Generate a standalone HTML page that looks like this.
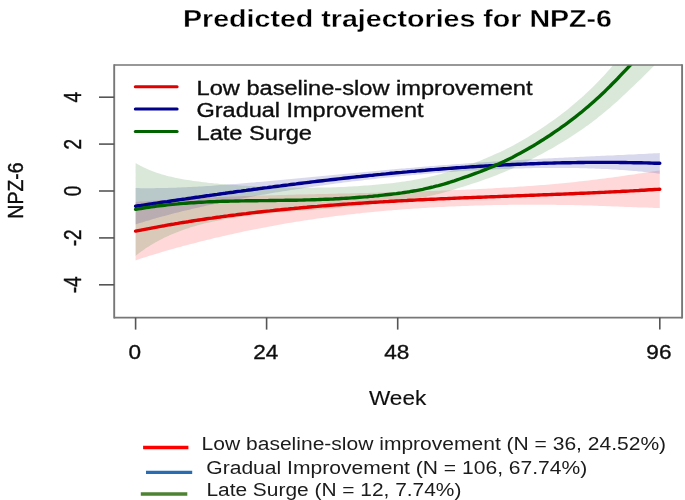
<!DOCTYPE html>
<html><head><meta charset="utf-8"><style>
html,body{margin:0;padding:0;background:#fff;overflow:hidden}
svg{display:block}
text{fill:#111;stroke:#111;stroke-width:0.35px} text[font-weight=bold]{stroke:#fff;stroke-width:0.3px;fill:#000}
</style></head><body>
<svg width="685" height="500" viewBox="0 0 685 500">
<defs><filter id="soft" filterUnits="userSpaceOnUse" x="0" y="0" width="685" height="500"><feGaussianBlur stdDeviation="0.45"/></filter></defs>
<rect width="685" height="500" fill="#fff"/>
<g filter="url(#soft)">

<defs><clipPath id="pc"><rect x="114" y="65" width="568" height="253"/></clipPath></defs>
<g clip-path="url(#pc)">
<path d="M135.6,201.9 L138.2,201.7 L140.9,201.6 L143.5,201.4 L146.1,201.2 L148.8,201.0 L151.4,200.8 L154.0,200.7 L156.7,200.5 L159.3,200.3 L161.9,200.1 L164.6,200.0 L167.2,199.8 L169.8,199.6 L172.5,199.5 L175.1,199.3 L177.7,199.2 L180.4,199.0 L183.0,198.9 L185.6,198.7 L188.3,198.6 L190.9,198.4 L193.6,198.3 L196.2,198.1 L198.8,198.0 L201.5,197.9 L204.1,197.8 L206.7,197.6 L209.4,197.5 L212.0,197.4 L214.6,197.3 L217.3,197.1 L219.9,197.0 L222.5,196.9 L225.2,196.8 L227.8,196.7 L230.4,196.6 L233.1,196.5 L235.7,196.4 L238.3,196.3 L241.0,196.2 L243.6,196.1 L246.2,196.0 L248.9,196.0 L251.5,195.9 L254.1,195.8 L256.8,195.7 L259.4,195.6 L262.0,195.5 L264.7,195.5 L267.3,195.4 L269.9,195.3 L272.6,195.2 L275.2,195.2 L277.8,195.1 L280.5,195.0 L283.1,195.0 L285.7,194.9 L288.4,194.8 L291.0,194.8 L293.7,194.7 L296.3,194.6 L298.9,194.6 L301.6,194.5 L304.2,194.4 L306.8,194.4 L309.5,194.3 L312.1,194.2 L314.7,194.2 L317.4,194.1 L320.0,194.1 L322.6,194.0 L325.3,193.9 L327.9,193.9 L330.5,193.8 L333.2,193.7 L335.8,193.7 L338.4,193.6 L341.1,193.6 L343.7,193.5 L346.3,193.4 L349.0,193.4 L351.6,193.3 L354.2,193.2 L356.9,193.2 L359.5,193.1 L362.1,193.0 L364.8,193.0 L367.4,192.9 L370.0,192.8 L372.7,192.8 L375.3,192.7 L377.9,192.6 L380.6,192.5 L383.2,192.5 L385.8,192.4 L388.5,192.3 L391.1,192.3 L393.7,192.2 L396.4,192.1 L399.0,192.0 L401.7,191.9 L404.3,191.9 L406.9,191.8 L409.6,191.7 L412.2,191.6 L414.8,191.5 L417.5,191.4 L420.1,191.4 L422.7,191.3 L425.4,191.2 L428.0,191.1 L430.6,191.0 L433.3,190.9 L435.9,190.8 L438.5,190.7 L441.2,190.6 L443.8,190.5 L446.4,190.4 L449.1,190.3 L451.7,190.2 L454.3,190.1 L457.0,190.0 L459.6,189.9 L462.2,189.8 L464.9,189.7 L467.5,189.5 L470.1,189.4 L472.8,189.3 L475.4,189.2 L478.0,189.1 L480.7,188.9 L483.3,188.8 L485.9,188.7 L488.6,188.5 L491.2,188.4 L493.8,188.2 L496.5,188.1 L499.1,187.9 L501.7,187.8 L504.4,187.6 L507.0,187.5 L509.7,187.3 L512.3,187.2 L514.9,187.0 L517.6,186.8 L520.2,186.6 L522.8,186.5 L525.5,186.3 L528.1,186.1 L530.7,185.9 L533.4,185.7 L536.0,185.5 L538.6,185.3 L541.3,185.1 L543.9,184.9 L546.5,184.7 L549.2,184.4 L551.8,184.2 L554.4,184.0 L557.1,183.7 L559.7,183.5 L562.3,183.2 L565.0,183.0 L567.6,182.7 L570.2,182.4 L572.9,182.2 L575.5,181.9 L578.1,181.6 L580.8,181.3 L583.4,181.0 L586.0,180.7 L588.7,180.4 L591.3,180.1 L593.9,179.8 L596.6,179.5 L599.2,179.1 L601.8,178.8 L604.5,178.4 L607.1,178.1 L609.8,177.7 L612.4,177.4 L615.0,177.0 L617.7,176.7 L620.3,176.3 L622.9,175.9 L625.6,175.5 L628.2,175.1 L630.8,174.8 L633.5,174.4 L636.1,174.0 L638.7,173.6 L641.4,173.2 L644.0,172.8 L646.6,172.4 L649.3,172.0 L651.9,171.6 L654.5,171.2 L657.2,170.8 L659.8,170.4 L659.8,208.0 L657.2,207.9 L654.5,207.9 L651.9,207.8 L649.3,207.7 L646.6,207.6 L644.0,207.5 L641.4,207.5 L638.7,207.4 L636.1,207.3 L633.5,207.2 L630.8,207.1 L628.2,207.0 L625.6,206.9 L622.9,206.8 L620.3,206.7 L617.7,206.6 L615.0,206.5 L612.4,206.4 L609.8,206.3 L607.1,206.2 L604.5,206.1 L601.8,206.0 L599.2,205.9 L596.6,205.8 L593.9,205.7 L591.3,205.6 L588.7,205.5 L586.0,205.5 L583.4,205.4 L580.8,205.3 L578.1,205.3 L575.5,205.2 L572.9,205.1 L570.2,205.1 L567.6,205.0 L565.0,205.0 L562.3,204.9 L559.7,204.9 L557.1,204.9 L554.4,204.8 L551.8,204.8 L549.2,204.8 L546.5,204.8 L543.9,204.7 L541.3,204.7 L538.6,204.7 L536.0,204.7 L533.4,204.7 L530.7,204.7 L528.1,204.7 L525.5,204.7 L522.8,204.7 L520.2,204.7 L517.6,204.8 L514.9,204.8 L512.3,204.8 L509.7,204.8 L507.0,204.9 L504.4,204.9 L501.7,205.0 L499.1,205.0 L496.5,205.1 L493.8,205.1 L491.2,205.2 L488.6,205.2 L485.9,205.3 L483.3,205.4 L480.7,205.4 L478.0,205.5 L475.4,205.6 L472.8,205.7 L470.1,205.8 L467.5,205.9 L464.9,206.0 L462.2,206.1 L459.6,206.2 L457.0,206.3 L454.3,206.4 L451.7,206.5 L449.1,206.6 L446.4,206.7 L443.8,206.9 L441.2,207.0 L438.5,207.1 L435.9,207.3 L433.3,207.4 L430.6,207.6 L428.0,207.7 L425.4,207.9 L422.7,208.1 L420.1,208.2 L417.5,208.4 L414.8,208.6 L412.2,208.7 L409.6,208.9 L406.9,209.1 L404.3,209.3 L401.7,209.5 L399.0,209.7 L396.4,209.9 L393.7,210.1 L391.1,210.4 L388.5,210.6 L385.8,210.8 L383.2,211.0 L380.6,211.3 L377.9,211.5 L375.3,211.8 L372.7,212.0 L370.0,212.3 L367.4,212.5 L364.8,212.8 L362.1,213.1 L359.5,213.4 L356.9,213.6 L354.2,213.9 L351.6,214.2 L349.0,214.5 L346.3,214.8 L343.7,215.2 L341.1,215.5 L338.4,215.8 L335.8,216.1 L333.2,216.5 L330.5,216.8 L327.9,217.2 L325.3,217.5 L322.6,217.9 L320.0,218.2 L317.4,218.6 L314.7,219.0 L312.1,219.4 L309.5,219.8 L306.8,220.2 L304.2,220.6 L301.6,221.0 L298.9,221.4 L296.3,221.8 L293.7,222.3 L291.0,222.7 L288.4,223.1 L285.7,223.6 L283.1,224.0 L280.5,224.5 L277.8,225.0 L275.2,225.4 L272.6,225.9 L269.9,226.4 L267.3,226.9 L264.7,227.4 L262.0,227.9 L259.4,228.4 L256.8,228.9 L254.1,229.5 L251.5,230.0 L248.9,230.5 L246.2,231.1 L243.6,231.6 L241.0,232.2 L238.3,232.8 L235.7,233.3 L233.1,233.9 L230.4,234.5 L227.8,235.1 L225.2,235.7 L222.5,236.3 L219.9,236.9 L217.3,237.5 L214.6,238.1 L212.0,238.8 L209.4,239.4 L206.7,240.0 L204.1,240.7 L201.5,241.3 L198.8,242.0 L196.2,242.7 L193.6,243.4 L190.9,244.0 L188.3,244.7 L185.6,245.4 L183.0,246.1 L180.4,246.9 L177.7,247.6 L175.1,248.3 L172.5,249.1 L169.8,249.8 L167.2,250.6 L164.6,251.3 L161.9,252.1 L159.3,252.9 L156.7,253.7 L154.0,254.5 L151.4,255.3 L148.8,256.1 L146.1,256.9 L143.5,257.8 L140.9,258.6 L138.2,259.5 L135.6,260.4 Z" fill="rgba(255,0,0,0.15)"/>
<path d="M135.6,188.1 L138.2,188.1 L140.9,188.2 L143.5,188.2 L146.1,188.2 L148.8,188.2 L151.4,188.2 L154.0,188.2 L156.7,188.1 L159.3,188.1 L161.9,188.0 L164.6,188.0 L167.2,187.9 L169.8,187.8 L172.5,187.8 L175.1,187.7 L177.7,187.6 L180.4,187.5 L183.0,187.3 L185.6,187.2 L188.3,187.1 L190.9,187.0 L193.6,186.8 L196.2,186.7 L198.8,186.5 L201.5,186.4 L204.1,186.2 L206.7,186.0 L209.4,185.9 L212.0,185.7 L214.6,185.5 L217.3,185.3 L219.9,185.1 L222.5,184.9 L225.2,184.8 L227.8,184.6 L230.4,184.3 L233.1,184.1 L235.7,183.9 L238.3,183.7 L241.0,183.5 L243.6,183.3 L246.2,183.1 L248.9,182.8 L251.5,182.6 L254.1,182.4 L256.8,182.1 L259.4,181.9 L262.0,181.7 L264.7,181.4 L267.3,181.2 L269.9,181.0 L272.6,180.7 L275.2,180.5 L277.8,180.2 L280.5,180.0 L283.1,179.7 L285.7,179.5 L288.4,179.2 L291.0,179.0 L293.7,178.7 L296.3,178.5 L298.9,178.2 L301.6,178.0 L304.2,177.7 L306.8,177.5 L309.5,177.2 L312.1,177.0 L314.7,176.7 L317.4,176.5 L320.0,176.2 L322.6,176.0 L325.3,175.7 L327.9,175.4 L330.5,175.2 L333.2,174.9 L335.8,174.7 L338.4,174.4 L341.1,174.2 L343.7,173.9 L346.3,173.7 L349.0,173.4 L351.6,173.2 L354.2,172.9 L356.9,172.7 L359.5,172.4 L362.1,172.2 L364.8,171.9 L367.4,171.7 L370.0,171.4 L372.7,171.2 L375.3,171.0 L377.9,170.7 L380.6,170.5 L383.2,170.2 L385.8,170.0 L388.5,169.8 L391.1,169.5 L393.7,169.3 L396.4,169.1 L399.0,168.8 L401.7,168.6 L404.3,168.4 L406.9,168.1 L409.6,167.9 L412.2,167.7 L414.8,167.5 L417.5,167.2 L420.1,167.0 L422.7,166.8 L425.4,166.6 L428.0,166.4 L430.6,166.1 L433.3,165.9 L435.9,165.7 L438.5,165.5 L441.2,165.3 L443.8,165.1 L446.4,164.9 L449.1,164.7 L451.7,164.5 L454.3,164.3 L457.0,164.1 L459.6,163.9 L462.2,163.7 L464.9,163.5 L467.5,163.3 L470.1,163.1 L472.8,163.0 L475.4,162.8 L478.0,162.6 L480.7,162.4 L483.3,162.2 L485.9,162.0 L488.6,161.9 L491.2,161.7 L493.8,161.5 L496.5,161.4 L499.1,161.2 L501.7,161.0 L504.4,160.9 L507.0,160.7 L509.7,160.5 L512.3,160.4 L514.9,160.2 L517.6,160.1 L520.2,159.9 L522.8,159.8 L525.5,159.6 L528.1,159.5 L530.7,159.3 L533.4,159.2 L536.0,159.0 L538.6,158.9 L541.3,158.7 L543.9,158.6 L546.5,158.5 L549.2,158.3 L551.8,158.2 L554.4,158.1 L557.1,157.9 L559.7,157.8 L562.3,157.7 L565.0,157.5 L567.6,157.4 L570.2,157.3 L572.9,157.2 L575.5,157.0 L578.1,156.9 L580.8,156.8 L583.4,156.7 L586.0,156.6 L588.7,156.4 L591.3,156.3 L593.9,156.2 L596.6,156.1 L599.2,156.0 L601.8,155.8 L604.5,155.7 L607.1,155.6 L609.8,155.5 L612.4,155.4 L615.0,155.2 L617.7,155.1 L620.3,155.0 L622.9,154.9 L625.6,154.8 L628.2,154.6 L630.8,154.5 L633.5,154.4 L636.1,154.3 L638.7,154.1 L641.4,154.0 L644.0,153.9 L646.6,153.7 L649.3,153.6 L651.9,153.4 L654.5,153.3 L657.2,153.2 L659.8,153.0 L659.8,173.7 L657.2,173.4 L654.5,173.0 L651.9,172.7 L649.3,172.4 L646.6,172.2 L644.0,171.9 L641.4,171.6 L638.7,171.4 L636.1,171.1 L633.5,170.9 L630.8,170.7 L628.2,170.5 L625.6,170.3 L622.9,170.1 L620.3,169.9 L617.7,169.7 L615.0,169.6 L612.4,169.4 L609.8,169.3 L607.1,169.1 L604.5,169.0 L601.8,168.9 L599.2,168.8 L596.6,168.7 L593.9,168.6 L591.3,168.5 L588.7,168.4 L586.0,168.3 L583.4,168.3 L580.8,168.2 L578.1,168.1 L575.5,168.1 L572.9,168.0 L570.2,168.0 L567.6,168.0 L565.0,168.0 L562.3,167.9 L559.7,167.9 L557.1,167.9 L554.4,167.9 L551.8,167.9 L549.2,167.9 L546.5,168.0 L543.9,168.0 L541.3,168.0 L538.6,168.1 L536.0,168.1 L533.4,168.1 L530.7,168.2 L528.1,168.2 L525.5,168.3 L522.8,168.4 L520.2,168.4 L517.6,168.5 L514.9,168.6 L512.3,168.7 L509.7,168.8 L507.0,168.9 L504.4,169.0 L501.7,169.1 L499.1,169.2 L496.5,169.3 L493.8,169.4 L491.2,169.5 L488.6,169.7 L485.9,169.8 L483.3,169.9 L480.7,170.1 L478.0,170.2 L475.4,170.4 L472.8,170.5 L470.1,170.7 L467.5,170.8 L464.9,171.0 L462.2,171.2 L459.6,171.3 L457.0,171.5 L454.3,171.7 L451.7,171.9 L449.1,172.1 L446.4,172.3 L443.8,172.5 L441.2,172.7 L438.5,172.9 L435.9,173.1 L433.3,173.3 L430.6,173.5 L428.0,173.7 L425.4,173.9 L422.7,174.2 L420.1,174.4 L417.5,174.6 L414.8,174.9 L412.2,175.1 L409.6,175.4 L406.9,175.6 L404.3,175.9 L401.7,176.1 L399.0,176.4 L396.4,176.6 L393.7,176.9 L391.1,177.2 L388.5,177.4 L385.8,177.7 L383.2,178.0 L380.6,178.3 L377.9,178.6 L375.3,178.9 L372.7,179.2 L370.0,179.5 L367.4,179.8 L364.8,180.1 L362.1,180.4 L359.5,180.7 L356.9,181.0 L354.2,181.3 L351.6,181.6 L349.0,182.0 L346.3,182.3 L343.7,182.6 L341.1,183.0 L338.4,183.3 L335.8,183.6 L333.2,184.0 L330.5,184.3 L327.9,184.7 L325.3,185.1 L322.6,185.4 L320.0,185.8 L317.4,186.2 L314.7,186.5 L312.1,186.9 L309.5,187.3 L306.8,187.7 L304.2,188.1 L301.6,188.5 L298.9,188.9 L296.3,189.3 L293.7,189.7 L291.0,190.1 L288.4,190.5 L285.7,190.9 L283.1,191.3 L280.5,191.7 L277.8,192.2 L275.2,192.6 L272.6,193.0 L269.9,193.5 L267.3,193.9 L264.7,194.4 L262.0,194.8 L259.4,195.3 L256.8,195.8 L254.1,196.2 L251.5,196.7 L248.9,197.2 L246.2,197.7 L243.6,198.2 L241.0,198.7 L238.3,199.2 L235.7,199.7 L233.1,200.2 L230.4,200.7 L227.8,201.2 L225.2,201.8 L222.5,202.3 L219.9,202.8 L217.3,203.4 L214.6,203.9 L212.0,204.5 L209.4,205.1 L206.7,205.6 L204.1,206.2 L201.5,206.8 L198.8,207.4 L196.2,208.0 L193.6,208.6 L190.9,209.2 L188.3,209.9 L185.6,210.5 L183.0,211.1 L180.4,211.8 L177.7,212.5 L175.1,213.1 L172.5,213.8 L169.8,214.5 L167.2,215.2 L164.6,215.9 L161.9,216.6 L159.3,217.3 L156.7,218.1 L154.0,218.8 L151.4,219.6 L148.8,220.4 L146.1,221.1 L143.5,221.9 L140.9,222.7 L138.2,223.6 L135.6,224.4 Z" fill="rgba(0,0,139,0.15)"/>
<path d="M135.6,162.9 L138.2,164.5 L140.9,166.0 L143.5,167.3 L146.1,168.6 L148.8,169.7 L151.4,170.8 L154.0,171.8 L156.7,172.7 L159.3,173.6 L161.9,174.4 L164.6,175.1 L167.2,175.9 L169.8,176.5 L172.5,177.1 L175.1,177.7 L177.7,178.2 L180.4,178.8 L183.0,179.2 L185.6,179.7 L188.3,180.1 L190.9,180.5 L193.6,180.9 L196.2,181.3 L198.8,181.6 L201.5,182.0 L204.1,182.3 L206.7,182.6 L209.4,182.9 L212.0,183.1 L214.6,183.4 L217.3,183.6 L219.9,183.9 L222.5,184.1 L225.2,184.3 L227.8,184.5 L230.4,184.7 L233.1,184.9 L235.7,185.1 L238.3,185.3 L241.0,185.5 L243.6,185.7 L246.2,185.8 L248.9,186.0 L251.5,186.1 L254.1,186.3 L256.8,186.4 L259.4,186.5 L262.0,186.6 L264.7,186.8 L267.3,186.9 L269.9,187.0 L272.6,187.1 L275.2,187.2 L277.8,187.2 L280.5,187.3 L283.1,187.4 L285.7,187.5 L288.4,187.5 L291.0,187.6 L293.7,187.6 L296.3,187.6 L298.9,187.7 L301.6,187.7 L304.2,187.7 L306.8,187.7 L309.5,187.7 L312.1,187.7 L314.7,187.7 L317.4,187.6 L320.0,187.6 L322.6,187.6 L325.3,187.5 L327.9,187.4 L330.5,187.4 L333.2,187.3 L335.8,187.2 L338.4,187.1 L341.1,187.0 L343.7,186.9 L346.3,186.8 L349.0,186.6 L351.6,186.5 L354.2,186.3 L356.9,186.2 L359.5,186.0 L362.1,185.8 L364.8,185.6 L367.4,185.4 L370.0,185.2 L372.7,185.0 L375.3,184.8 L377.9,184.5 L380.6,184.3 L383.2,184.0 L385.8,183.7 L388.5,183.5 L391.1,183.2 L393.7,182.9 L396.4,182.5 L399.0,182.2 L401.7,181.8 L404.3,181.5 L406.9,181.1 L409.6,180.7 L412.2,180.3 L414.8,179.8 L417.5,179.3 L420.1,178.8 L422.7,178.3 L425.4,177.8 L428.0,177.2 L430.6,176.6 L433.3,176.0 L435.9,175.3 L438.5,174.6 L441.2,173.9 L443.8,173.1 L446.4,172.3 L449.1,171.5 L451.7,170.7 L454.3,169.8 L457.0,168.9 L459.6,168.0 L462.2,167.1 L464.9,166.2 L467.5,165.3 L470.1,164.3 L472.8,163.4 L475.4,162.4 L478.0,161.4 L480.7,160.4 L483.3,159.3 L485.9,158.2 L488.6,157.1 L491.2,156.0 L493.8,154.8 L496.5,153.6 L499.1,152.4 L501.7,151.2 L504.4,149.9 L507.0,148.6 L509.7,147.2 L512.3,145.9 L514.9,144.4 L517.6,143.0 L520.2,141.5 L522.8,140.0 L525.5,138.4 L528.1,136.9 L530.7,135.3 L533.4,133.6 L536.0,131.9 L538.6,130.2 L541.3,128.5 L543.9,126.7 L546.5,125.0 L549.2,123.1 L551.8,121.3 L554.4,119.4 L557.1,117.5 L559.7,115.5 L562.3,113.5 L565.0,111.4 L567.6,109.4 L570.2,107.2 L572.9,105.1 L575.5,102.8 L578.1,100.6 L580.8,98.3 L583.4,95.9 L586.0,93.5 L588.7,91.0 L591.3,88.4 L593.9,85.9 L596.6,83.2 L599.2,80.5 L601.8,77.7 L604.5,74.9 L607.1,72.0 L609.8,69.0 L612.4,66.0 L615.0,62.9 L617.7,59.8 L620.3,56.6 L622.9,53.3 L625.6,50.0 L628.2,46.7 L630.8,43.3 L633.5,39.9 L636.1,36.4 L638.7,32.8 L641.4,29.2 L644.0,25.6 L646.6,21.9 L649.3,18.2 L651.9,14.4 L654.5,10.6 L657.2,6.7 L659.8,2.8 L659.8,59.9 L657.2,62.5 L654.5,65.2 L651.9,67.9 L649.3,70.5 L646.6,73.2 L644.0,75.8 L641.4,78.4 L638.7,81.0 L636.1,83.6 L633.5,86.1 L630.8,88.6 L628.2,91.1 L625.6,93.6 L622.9,96.1 L620.3,98.5 L617.7,100.9 L615.0,103.3 L612.4,105.6 L609.8,107.9 L607.1,110.1 L604.5,112.3 L601.8,114.5 L599.2,116.6 L596.6,118.7 L593.9,120.7 L591.3,122.7 L588.7,124.7 L586.0,126.6 L583.4,128.5 L580.8,130.3 L578.1,132.1 L575.5,133.8 L572.9,135.6 L570.2,137.3 L567.6,138.9 L565.0,140.6 L562.3,142.2 L559.7,143.8 L557.1,145.3 L554.4,146.9 L551.8,148.4 L549.2,149.8 L546.5,151.3 L543.9,152.8 L541.3,154.2 L538.6,155.6 L536.0,157.0 L533.4,158.3 L530.7,159.7 L528.1,161.0 L525.5,162.3 L522.8,163.6 L520.2,164.9 L517.6,166.1 L514.9,167.3 L512.3,168.5 L509.7,169.7 L507.0,170.8 L504.4,172.0 L501.7,173.0 L499.1,174.1 L496.5,175.2 L493.8,176.2 L491.2,177.2 L488.6,178.2 L485.9,179.1 L483.3,180.1 L480.7,181.0 L478.0,181.9 L475.4,182.8 L472.8,183.6 L470.1,184.5 L467.5,185.3 L464.9,186.2 L462.2,187.0 L459.6,187.8 L457.0,188.6 L454.3,189.4 L451.7,190.2 L449.1,191.0 L446.4,191.8 L443.8,192.5 L441.2,193.2 L438.5,193.9 L435.9,194.5 L433.3,195.2 L430.6,195.8 L428.0,196.3 L425.4,196.9 L422.7,197.4 L420.1,197.9 L417.5,198.4 L414.8,198.9 L412.2,199.3 L409.6,199.7 L406.9,200.1 L404.3,200.5 L401.7,200.9 L399.0,201.3 L396.4,201.6 L393.7,202.0 L391.1,202.3 L388.5,202.6 L385.8,203.0 L383.2,203.3 L380.6,203.6 L377.9,203.9 L375.3,204.2 L372.7,204.5 L370.0,204.8 L367.4,205.0 L364.8,205.3 L362.1,205.6 L359.5,205.8 L356.9,206.1 L354.2,206.3 L351.6,206.6 L349.0,206.8 L346.3,207.1 L343.7,207.3 L341.1,207.5 L338.4,207.7 L335.8,208.0 L333.2,208.2 L330.5,208.4 L327.9,208.6 L325.3,208.8 L322.6,209.0 L320.0,209.2 L317.4,209.5 L314.7,209.7 L312.1,209.9 L309.5,210.1 L306.8,210.3 L304.2,210.5 L301.6,210.7 L298.9,210.9 L296.3,211.1 L293.7,211.3 L291.0,211.5 L288.4,211.7 L285.7,211.9 L283.1,212.2 L280.5,212.4 L277.8,212.6 L275.2,212.8 L272.6,213.1 L269.9,213.3 L267.3,213.6 L264.7,213.8 L262.0,214.1 L259.4,214.4 L256.8,214.7 L254.1,215.0 L251.5,215.3 L248.9,215.6 L246.2,215.9 L243.6,216.3 L241.0,216.7 L238.3,217.0 L235.7,217.4 L233.1,217.8 L230.4,218.2 L227.8,218.7 L225.2,219.1 L222.5,219.6 L219.9,220.1 L217.3,220.7 L214.6,221.2 L212.0,221.8 L209.4,222.4 L206.7,223.0 L204.1,223.6 L201.5,224.3 L198.8,225.0 L196.2,225.7 L193.6,226.5 L190.9,227.3 L188.3,228.2 L185.6,229.0 L183.0,230.0 L180.4,230.9 L177.7,231.9 L175.1,233.0 L172.5,234.0 L169.8,235.2 L167.2,236.4 L164.6,237.6 L161.9,238.9 L159.3,240.3 L156.7,241.7 L154.0,243.2 L151.4,244.8 L148.8,246.4 L146.1,248.1 L143.5,249.9 L140.9,251.8 L138.2,253.7 L135.6,255.8 Z" fill="rgba(0,100,0,0.15)"/>
<path d="M135.6,231.1 L138.2,230.6 L140.9,230.1 L143.5,229.6 L146.1,229.1 L148.8,228.6 L151.4,228.1 L154.0,227.6 L156.7,227.1 L159.3,226.6 L161.9,226.1 L164.6,225.7 L167.2,225.2 L169.8,224.7 L172.5,224.3 L175.1,223.8 L177.7,223.4 L180.4,222.9 L183.0,222.5 L185.6,222.1 L188.3,221.7 L190.9,221.2 L193.6,220.8 L196.2,220.4 L198.8,220.0 L201.5,219.6 L204.1,219.2 L206.7,218.8 L209.4,218.4 L212.0,218.1 L214.6,217.7 L217.3,217.3 L219.9,217.0 L222.5,216.6 L225.2,216.2 L227.8,215.9 L230.4,215.5 L233.1,215.2 L235.7,214.9 L238.3,214.5 L241.0,214.2 L243.6,213.9 L246.2,213.6 L248.9,213.2 L251.5,212.9 L254.1,212.6 L256.8,212.3 L259.4,212.0 L262.0,211.7 L264.7,211.4 L267.3,211.1 L269.9,210.9 L272.6,210.6 L275.2,210.3 L277.8,210.0 L280.5,209.8 L283.1,209.5 L285.7,209.2 L288.4,209.0 L291.0,208.7 L293.7,208.5 L296.3,208.2 L298.9,208.0 L301.6,207.7 L304.2,207.5 L306.8,207.3 L309.5,207.0 L312.1,206.8 L314.7,206.6 L317.4,206.4 L320.0,206.1 L322.6,205.9 L325.3,205.7 L327.9,205.5 L330.5,205.3 L333.2,205.1 L335.8,204.9 L338.4,204.7 L341.1,204.5 L343.7,204.3 L346.3,204.1 L349.0,203.9 L351.6,203.8 L354.2,203.6 L356.9,203.4 L359.5,203.2 L362.1,203.1 L364.8,202.9 L367.4,202.7 L370.0,202.5 L372.7,202.4 L375.3,202.2 L377.9,202.1 L380.6,201.9 L383.2,201.8 L385.8,201.6 L388.5,201.5 L391.1,201.3 L393.7,201.2 L396.4,201.0 L399.0,200.9 L401.7,200.7 L404.3,200.6 L406.9,200.5 L409.6,200.3 L412.2,200.2 L414.8,200.1 L417.5,199.9 L420.1,199.8 L422.7,199.7 L425.4,199.5 L428.0,199.4 L430.6,199.3 L433.3,199.2 L435.9,199.1 L438.5,198.9 L441.2,198.8 L443.8,198.7 L446.4,198.6 L449.1,198.5 L451.7,198.4 L454.3,198.2 L457.0,198.1 L459.6,198.0 L462.2,197.9 L464.9,197.8 L467.5,197.7 L470.1,197.6 L472.8,197.5 L475.4,197.4 L478.0,197.3 L480.7,197.2 L483.3,197.1 L485.9,197.0 L488.6,196.9 L491.2,196.8 L493.8,196.7 L496.5,196.6 L499.1,196.5 L501.7,196.4 L504.4,196.3 L507.0,196.2 L509.7,196.1 L512.3,196.0 L514.9,195.9 L517.6,195.8 L520.2,195.7 L522.8,195.6 L525.5,195.5 L528.1,195.4 L530.7,195.3 L533.4,195.2 L536.0,195.1 L538.6,195.0 L541.3,194.9 L543.9,194.8 L546.5,194.7 L549.2,194.6 L551.8,194.5 L554.4,194.4 L557.1,194.3 L559.7,194.2 L562.3,194.1 L565.0,194.0 L567.6,193.9 L570.2,193.8 L572.9,193.7 L575.5,193.5 L578.1,193.4 L580.8,193.3 L583.4,193.2 L586.0,193.1 L588.7,193.0 L591.3,192.9 L593.9,192.7 L596.6,192.6 L599.2,192.5 L601.8,192.4 L604.5,192.3 L607.1,192.1 L609.8,192.0 L612.4,191.9 L615.0,191.7 L617.7,191.6 L620.3,191.5 L622.9,191.3 L625.6,191.2 L628.2,191.1 L630.8,190.9 L633.5,190.8 L636.1,190.6 L638.7,190.5 L641.4,190.3 L644.0,190.2 L646.6,190.0 L649.3,189.8 L651.9,189.7 L654.5,189.5 L657.2,189.4 L659.8,189.2" fill="none" stroke="#e00000" stroke-width="3.4" stroke-linecap="round" stroke-linejoin="round"/>
<path d="M135.6,206.2 L138.2,205.8 L140.9,205.5 L143.5,205.1 L146.1,204.7 L148.8,204.3 L151.4,203.9 L154.0,203.5 L156.7,203.1 L159.3,202.7 L161.9,202.3 L164.6,201.9 L167.2,201.6 L169.8,201.2 L172.5,200.8 L175.1,200.4 L177.7,200.0 L180.4,199.6 L183.0,199.2 L185.6,198.9 L188.3,198.5 L190.9,198.1 L193.6,197.7 L196.2,197.3 L198.8,197.0 L201.5,196.6 L204.1,196.2 L206.7,195.8 L209.4,195.5 L212.0,195.1 L214.6,194.7 L217.3,194.4 L219.9,194.0 L222.5,193.6 L225.2,193.3 L227.8,192.9 L230.4,192.5 L233.1,192.2 L235.7,191.8 L238.3,191.4 L241.0,191.1 L243.6,190.7 L246.2,190.4 L248.9,190.0 L251.5,189.7 L254.1,189.3 L256.8,189.0 L259.4,188.6 L262.0,188.3 L264.7,187.9 L267.3,187.6 L269.9,187.2 L272.6,186.9 L275.2,186.5 L277.8,186.2 L280.5,185.9 L283.1,185.5 L285.7,185.2 L288.4,184.9 L291.0,184.5 L293.7,184.2 L296.3,183.9 L298.9,183.5 L301.6,183.2 L304.2,182.9 L306.8,182.6 L309.5,182.3 L312.1,181.9 L314.7,181.6 L317.4,181.3 L320.0,181.0 L322.6,180.7 L325.3,180.4 L327.9,180.1 L330.5,179.8 L333.2,179.5 L335.8,179.2 L338.4,178.9 L341.1,178.6 L343.7,178.3 L346.3,178.0 L349.0,177.7 L351.6,177.4 L354.2,177.1 L356.9,176.8 L359.5,176.6 L362.1,176.3 L364.8,176.0 L367.4,175.7 L370.0,175.4 L372.7,175.2 L375.3,174.9 L377.9,174.6 L380.6,174.4 L383.2,174.1 L385.8,173.9 L388.5,173.6 L391.1,173.3 L393.7,173.1 L396.4,172.8 L399.0,172.6 L401.7,172.4 L404.3,172.1 L406.9,171.9 L409.6,171.6 L412.2,171.4 L414.8,171.2 L417.5,170.9 L420.1,170.7 L422.7,170.5 L425.4,170.3 L428.0,170.0 L430.6,169.8 L433.3,169.6 L435.9,169.4 L438.5,169.2 L441.2,169.0 L443.8,168.8 L446.4,168.6 L449.1,168.4 L451.7,168.2 L454.3,168.0 L457.0,167.8 L459.6,167.6 L462.2,167.4 L464.9,167.3 L467.5,167.1 L470.1,166.9 L472.8,166.7 L475.4,166.6 L478.0,166.4 L480.7,166.2 L483.3,166.1 L485.9,165.9 L488.6,165.8 L491.2,165.6 L493.8,165.5 L496.5,165.3 L499.1,165.2 L501.7,165.0 L504.4,164.9 L507.0,164.8 L509.7,164.7 L512.3,164.5 L514.9,164.4 L517.6,164.3 L520.2,164.2 L522.8,164.1 L525.5,164.0 L528.1,163.9 L530.7,163.7 L533.4,163.7 L536.0,163.6 L538.6,163.5 L541.3,163.4 L543.9,163.3 L546.5,163.2 L549.2,163.1 L551.8,163.1 L554.4,163.0 L557.1,162.9 L559.7,162.9 L562.3,162.8 L565.0,162.8 L567.6,162.7 L570.2,162.7 L572.9,162.6 L575.5,162.6 L578.1,162.5 L580.8,162.5 L583.4,162.5 L586.0,162.4 L588.7,162.4 L591.3,162.4 L593.9,162.4 L596.6,162.4 L599.2,162.4 L601.8,162.4 L604.5,162.4 L607.1,162.4 L609.8,162.4 L612.4,162.4 L615.0,162.4 L617.7,162.4 L620.3,162.5 L622.9,162.5 L625.6,162.5 L628.2,162.6 L630.8,162.6 L633.5,162.7 L636.1,162.7 L638.7,162.8 L641.4,162.8 L644.0,162.9 L646.6,162.9 L649.3,163.0 L651.9,163.1 L654.5,163.2 L657.2,163.3 L659.8,163.3" fill="none" stroke="#00008b" stroke-width="3.4" stroke-linecap="round" stroke-linejoin="round"/>
<path d="M135.6,209.4 L138.2,208.9 L140.9,208.5 L143.5,208.0 L146.1,207.6 L148.8,207.2 L151.4,206.9 L154.0,206.5 L156.7,206.1 L159.3,205.8 L161.9,205.5 L164.6,205.2 L167.2,204.9 L169.8,204.6 L172.5,204.4 L175.1,204.1 L177.7,203.9 L180.4,203.6 L183.0,203.4 L185.6,203.2 L188.3,203.0 L190.9,202.8 L193.6,202.7 L196.2,202.5 L198.8,202.3 L201.5,202.2 L204.1,202.1 L206.7,201.9 L209.4,201.8 L212.0,201.7 L214.6,201.6 L217.3,201.5 L219.9,201.4 L222.5,201.3 L225.2,201.3 L227.8,201.2 L230.4,201.1 L233.1,201.1 L235.7,201.0 L238.3,201.0 L241.0,200.9 L243.6,200.9 L246.2,200.8 L248.9,200.8 L251.5,200.7 L254.1,200.7 L256.8,200.7 L259.4,200.6 L262.0,200.6 L264.7,200.6 L267.3,200.6 L269.9,200.5 L272.6,200.5 L275.2,200.5 L277.8,200.4 L280.5,200.4 L283.1,200.4 L285.7,200.3 L288.4,200.3 L291.0,200.3 L293.7,200.2 L296.3,200.2 L298.9,200.1 L301.6,200.1 L304.2,200.0 L306.8,199.9 L309.5,199.9 L312.1,199.8 L314.7,199.7 L317.4,199.6 L320.0,199.5 L322.6,199.4 L325.3,199.3 L327.9,199.2 L330.5,199.1 L333.2,199.0 L335.8,198.8 L338.4,198.7 L341.1,198.5 L343.7,198.4 L346.3,198.2 L349.0,198.1 L351.6,197.9 L354.2,197.7 L356.9,197.5 L359.5,197.3 L362.1,197.1 L364.8,196.9 L367.4,196.7 L370.0,196.4 L372.7,196.2 L375.3,195.9 L377.9,195.7 L380.6,195.4 L383.2,195.1 L385.8,194.8 L388.5,194.5 L391.1,194.2 L393.7,193.9 L396.4,193.6 L399.0,193.2 L401.7,192.9 L404.3,192.5 L406.9,192.1 L409.6,191.7 L412.2,191.2 L414.8,190.8 L417.5,190.3 L420.1,189.8 L422.7,189.3 L425.4,188.7 L428.0,188.1 L430.6,187.5 L433.3,186.9 L435.9,186.2 L438.5,185.6 L441.2,184.8 L443.8,184.1 L446.4,183.3 L449.1,182.5 L451.7,181.6 L454.3,180.8 L457.0,179.9 L459.6,179.0 L462.2,178.1 L464.9,177.2 L467.5,176.3 L470.1,175.4 L472.8,174.4 L475.4,173.4 L478.0,172.5 L480.7,171.5 L483.3,170.4 L485.9,169.4 L488.6,168.3 L491.2,167.2 L493.8,166.1 L496.5,164.9 L499.1,163.7 L501.7,162.5 L504.4,161.3 L507.0,160.0 L509.7,158.7 L512.3,157.4 L514.9,156.0 L517.6,154.6 L520.2,153.2 L522.8,151.8 L525.5,150.3 L528.1,148.8 L530.7,147.2 L533.4,145.7 L536.0,144.1 L538.6,142.5 L541.3,140.8 L543.9,139.2 L546.5,137.5 L549.2,135.8 L551.8,134.0 L554.4,132.2 L557.1,130.4 L559.7,128.6 L562.3,126.7 L565.0,124.8 L567.6,122.9 L570.2,120.9 L572.9,118.9 L575.5,116.9 L578.1,114.8 L580.8,112.7 L583.4,110.5 L586.0,108.3 L588.7,106.1 L591.3,103.8 L593.9,101.5 L596.6,99.1 L599.2,96.7 L601.8,94.2 L604.5,91.7 L607.1,89.1 L609.8,86.5 L612.4,83.8 L615.0,81.2 L617.7,78.5 L620.3,75.7 L622.9,72.9 L625.6,70.1 L628.2,67.3 L630.8,64.5 L633.5,61.6 L636.1,58.8 L638.7,55.9 L641.4,53.0 L644.0,50.1 L646.6,47.2 L649.3,44.3 L651.9,41.4 L654.5,38.6 L657.2,35.7 L659.8,32.8" fill="none" stroke="#006400" stroke-width="3.4" stroke-linecap="round" stroke-linejoin="round"/>
</g>


<path d="M114.2,65 H682.1 M114.2,317.6 H682.1" fill="none" stroke="#777" stroke-width="1.6"/>
<path d="M114.2,64.2 V318.4 M682.1,64.2 V318.4" fill="none" stroke="#777" stroke-width="1.9"/>

<line x1="99" y1="97.2" x2="114.2" y2="97.2" stroke="#555" stroke-width="1.6"/><line x1="99" y1="144.1" x2="114.2" y2="144.1" stroke="#555" stroke-width="1.6"/><line x1="99" y1="191.0" x2="114.2" y2="191.0" stroke="#555" stroke-width="1.6"/><line x1="99" y1="237.9" x2="114.2" y2="237.9" stroke="#555" stroke-width="1.6"/><line x1="99" y1="284.8" x2="114.2" y2="284.8" stroke="#555" stroke-width="1.6"/><line x1="135.6" y1="317.6" x2="135.6" y2="329.6" stroke="#555" stroke-width="1.6"/><line x1="266.6" y1="317.6" x2="266.6" y2="329.6" stroke="#555" stroke-width="1.6"/><line x1="397.7" y1="317.6" x2="397.7" y2="329.6" stroke="#555" stroke-width="1.6"/><line x1="659.8" y1="317.6" x2="659.8" y2="329.6" stroke="#555" stroke-width="1.6"/>
<text x="183" y="27" font-family="Liberation Sans" font-size="24" font-weight="bold" text-anchor="start" textLength="429" lengthAdjust="spacingAndGlyphs" >Predicted trajectories for NPZ-6</text><line x1="135.3" y1="86.7" x2="177.1" y2="86.7" stroke="#e00000" stroke-width="3" stroke-linecap="round"/><text x="196.5" y="94.7" font-family="Liberation Sans" font-size="19.5" font-weight="normal" text-anchor="start" textLength="336" lengthAdjust="spacingAndGlyphs" >Low baseline-slow improvement</text><line x1="135.3" y1="109.1" x2="177.1" y2="109.1" stroke="#00008b" stroke-width="3" stroke-linecap="round"/><text x="196.5" y="117.4" font-family="Liberation Sans" font-size="19.5" font-weight="normal" text-anchor="start" textLength="227" lengthAdjust="spacingAndGlyphs" >Gradual Improvement</text><line x1="135.3" y1="131.4" x2="177.1" y2="131.4" stroke="#006400" stroke-width="3" stroke-linecap="round"/><text x="196.5" y="139.6" font-family="Liberation Sans" font-size="19.5" font-weight="normal" text-anchor="start" textLength="115.5" lengthAdjust="spacingAndGlyphs" >Late Surge</text><text x="0" y="0" font-family="Liberation Sans" font-size="20" text-anchor="middle" transform="translate(134.7,358.6) scale(1.13,1)">0</text><text x="0" y="0" font-family="Liberation Sans" font-size="20" text-anchor="middle" transform="translate(265.8,358.6) scale(1.13,1)">24</text><text x="0" y="0" font-family="Liberation Sans" font-size="20" text-anchor="middle" transform="translate(396.8,358.6) scale(1.13,1)">48</text><text x="0" y="0" font-family="Liberation Sans" font-size="20" text-anchor="middle" transform="translate(658.9,358.6) scale(1.13,1)">96</text><text x="0" y="0" font-family="Liberation Sans" font-size="19" text-anchor="middle" transform="translate(81,97.2) scale(1.26,1) rotate(-90)">4</text><text x="0" y="0" font-family="Liberation Sans" font-size="19" text-anchor="middle" transform="translate(81,144.1) scale(1.26,1) rotate(-90)">2</text><text x="0" y="0" font-family="Liberation Sans" font-size="19" text-anchor="middle" transform="translate(81,191.0) scale(1.26,1) rotate(-90)">0</text><text x="0" y="0" font-family="Liberation Sans" font-size="19" text-anchor="middle" transform="translate(81,237.9) scale(1.26,1) rotate(-90)">-2</text><text x="0" y="0" font-family="Liberation Sans" font-size="19" text-anchor="middle" transform="translate(81,284.8) scale(1.26,1) rotate(-90)">-4</text><text x="0" y="0" font-family="Liberation Sans" font-size="20" text-anchor="middle" transform="translate(397.6,404.6) scale(1.13,1)" style="stroke-width:0.15px">Week</text><text x="0" y="0" font-family="Liberation Sans" font-size="19.5" text-anchor="middle" transform="translate(23,190.5) scale(1.17,1) rotate(-90)">NPZ-6</text><line x1="143.1" y1="447.5" x2="188.4" y2="447.5" stroke="#ff0000" stroke-width="3.4"/><text x="201.6" y="449.6" font-family="Liberation Sans" font-size="18" font-weight="normal" text-anchor="start" textLength="464.5" lengthAdjust="spacingAndGlyphs" style="stroke:none;fill:#1a1a1a">Low baseline-slow improvement (N = 36, 24.52%)</text><line x1="146" y1="472.4" x2="192.2" y2="472.4" stroke="#2b6cb3" stroke-width="3.4"/><text x="206.3" y="473.6" font-family="Liberation Sans" font-size="18" font-weight="normal" text-anchor="start" textLength="381" lengthAdjust="spacingAndGlyphs" style="stroke:none;fill:#1a1a1a">Gradual Improvement (N = 106, 67.74%)</text><line x1="140.8" y1="494" x2="187.3" y2="494" stroke="#4d8232" stroke-width="3.4"/><text x="206.4" y="495.7" font-family="Liberation Sans" font-size="18" font-weight="normal" text-anchor="start" textLength="255" lengthAdjust="spacingAndGlyphs" style="stroke:none;fill:#1a1a1a">Late Surge (N = 12, 7.74%)</text>
</g>
</svg>
</body></html>
